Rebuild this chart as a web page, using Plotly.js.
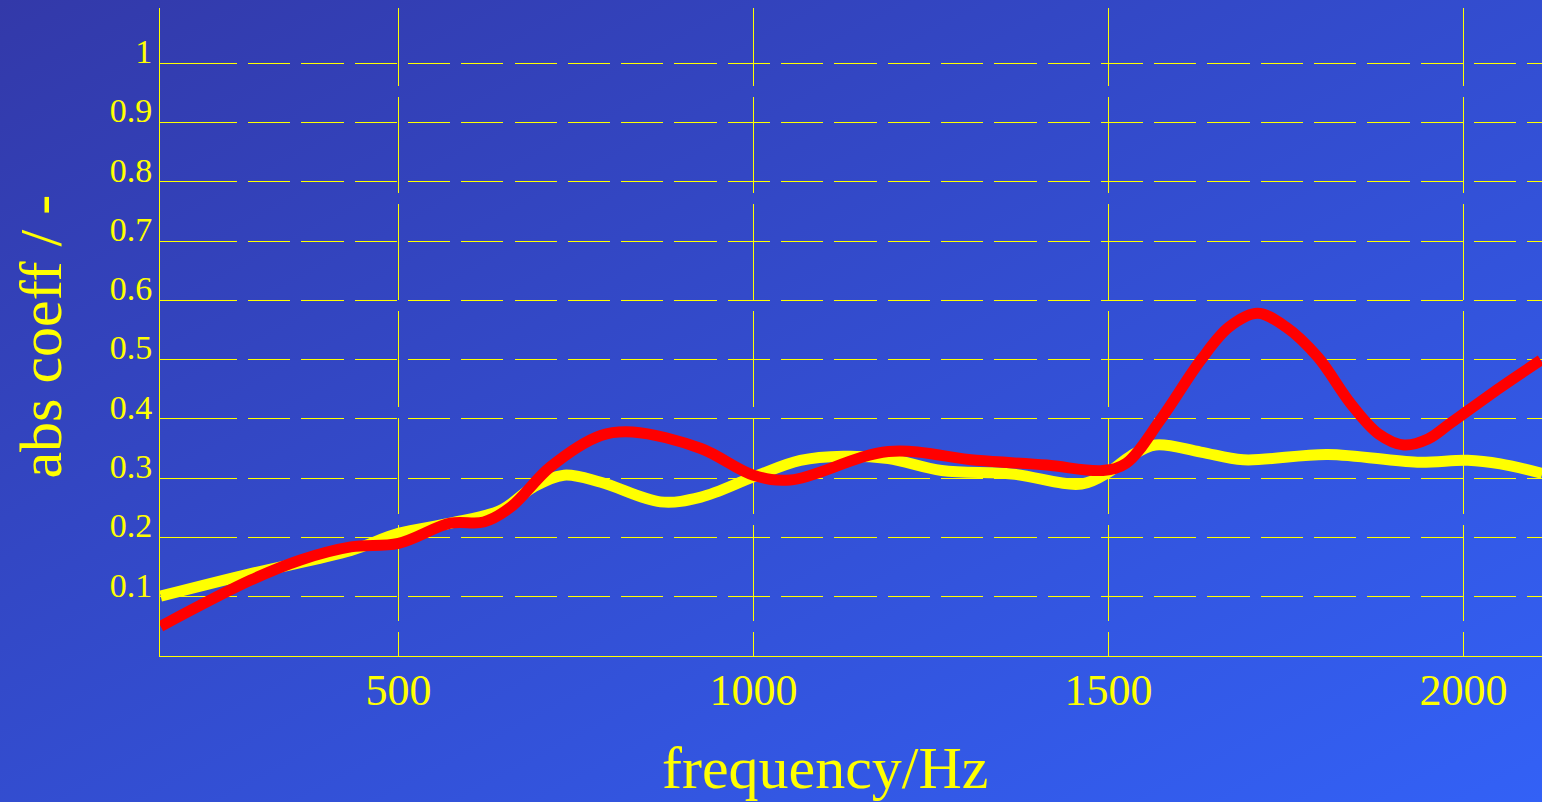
<!DOCTYPE html>
<html>
<head>
<meta charset="utf-8">
<script src="https://cdn.plot.ly/plotly-3.0.1.min.js"></script>
<style>
  html, body { margin: 0; padding: 0; width: 1542px; height: 802px; overflow: hidden;
    background: linear-gradient(to bottom right, #3339a9, #3361f6); }
  #chart { width: 1542px; height: 802px; }
</style>
</head>
<body>
<div id="chart"></div>
<script>
// Yellow series (frequency in Hz, absorption coefficient)
const freqYellow = [165, 292, 433, 500, 573, 644, 690, 733, 785, 869, 926, 1000, 1066, 1127, 1190, 1265, 1364, 1462, 1500, 1531, 1566, 1630, 1690, 1809, 1935, 2006, 2052, 2111];
const absYellow  = [0.101, 0.139, 0.178, 0.207, 0.224, 0.246, 0.285, 0.305, 0.293, 0.260, 0.268, 0.302, 0.330, 0.337, 0.333, 0.313, 0.307, 0.290, 0.310, 0.337, 0.356, 0.344, 0.331, 0.340, 0.327, 0.330, 0.324, 0.308];

// Red series
const freqRed = [165, 292, 362, 433, 500, 573, 620, 658, 714, 785, 830, 926, 1000, 1052, 1190, 1314, 1413, 1492, 1525, 1573, 1630, 1670, 1710, 1750, 1795, 1841, 1880, 1916, 1950, 1982, 2052, 2109];
const absRed  = [0.050, 0.128, 0.162, 0.184, 0.190, 0.224, 0.226, 0.251, 0.319, 0.372, 0.378, 0.350, 0.305, 0.297, 0.345, 0.330, 0.322, 0.313, 0.325, 0.398, 0.499, 0.555, 0.578, 0.555, 0.504, 0.426, 0.375, 0.356, 0.366, 0.393, 0.453, 0.499];

const yTickVals = [0.1, 0.2, 0.3, 0.4, 0.5, 0.6, 0.7, 0.8, 0.9, 1.0];
const yTickText = ["0.1", "0.2", "0.3", "0.4", "0.5", "0.6", "0.7", "0.8", "0.9", "1"];
const xTickVals = [500, 1000, 1500, 2000];
const xTickText = ["500", "1000", "1500", "2000"];

const serif = "'Liberation Serif', 'Times New Roman', serif";
const yellow = "#ffff00";

function dashList(first, dash, gap, n) {
  const parts = [first + "px", gap + "px"];
  for (let i = 0; i < n; i++) { parts.push(dash + "px", gap + "px"); }
  return parts.join(",");
}

const traces = [
  { x: freqYellow, y: absYellow, type: "scatter", mode: "lines",
    line: { color: yellow, width: 11, shape: "spline", smoothing: 1 }, name: "yellow", hoverinfo: "skip" },
  { x: freqRed, y: absRed, type: "scatter", mode: "lines",
    line: { color: "#ff0000", width: 11, shape: "spline", smoothing: 1 }, name: "red", hoverinfo: "skip" }
];

const layout = {
  width: 1542, height: 802,
  margin: { l: 160, r: 0, t: 8, b: 146, pad: 0 },
  paper_bgcolor: "rgba(0,0,0,0)",
  plot_bgcolor: "rgba(0,0,0,0)",
  showlegend: false,
  xaxis: {
    range: [164.1, 2110.6],
    tickvals: xTickVals, ticktext: xTickText,
    showgrid: true, gridcolor: yellow, gridwidth: 1,
    griddash: dashList(78, 96, 11, 8),
    showline: true, linecolor: yellow, linewidth: 1,
    zeroline: false, ticks: "",
    tickfont: { family: serif, size: 44, color: yellow },
    ticklabelstandoff: -5
  },
  yaxis: {
    range: [0, 1.093],
    tickvals: yTickVals, ticktext: yTickText,
    showgrid: true, gridcolor: yellow, gridwidth: 1,
    griddash: dashList(77, 42.3, 11, 30),
    showline: true, linecolor: yellow, linewidth: 1,
    zeroline: false, ticks: "",
    tickfont: { family: serif, size: 34, color: yellow },
    ticklabelshift: -12,
    ticklabelstandoff: 0
  },
  annotations: [
    { text: "frequency/Hz", xref: "paper", yref: "paper", x: 0.481, y: -0.173,
      xanchor: "center", yanchor: "middle", showarrow: false,
      font: { family: serif, size: 60, color: yellow } },
    { text: "abs coeff / -", xref: "paper", yref: "paper", x: -0.0868, y: 0.493,
      xanchor: "center", yanchor: "middle", showarrow: false, textangle: -90,
      font: { family: serif, size: 60, color: yellow } }
  ]
};

Plotly.newPlot("chart", traces, layout, { staticPlot: true, displayModeBar: false });
</script>
</body>
</html>
